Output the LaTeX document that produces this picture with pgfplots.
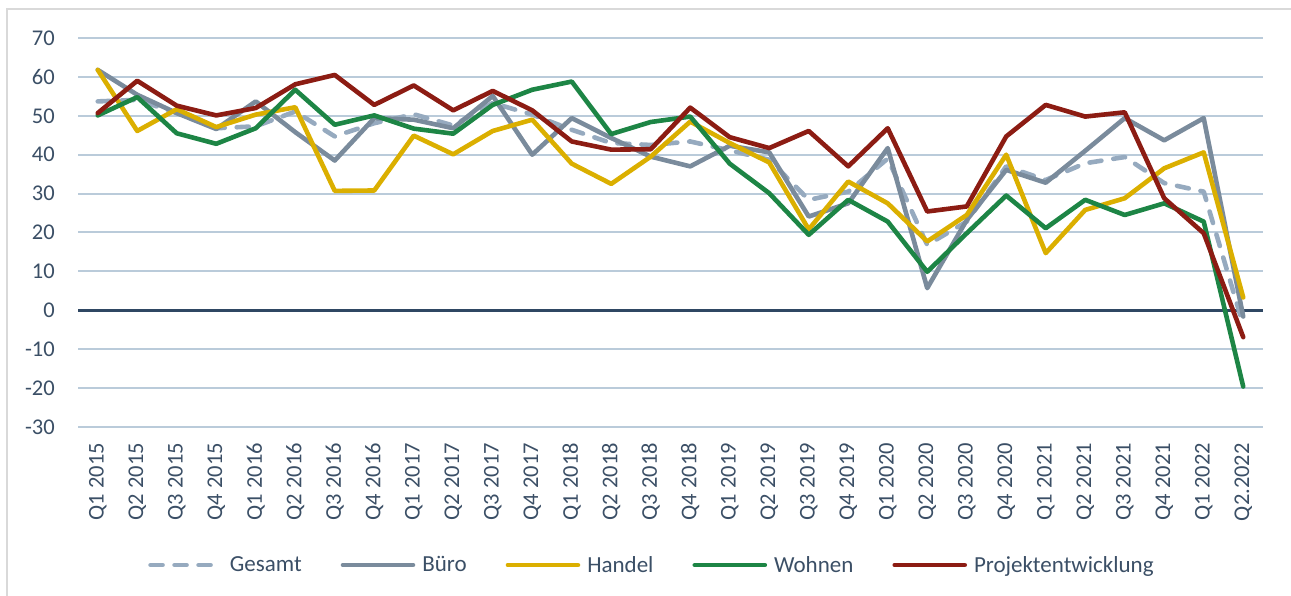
\documentclass[border=0pt]{standalone}
\usepackage{pgfplots}
\pgfplotsset{compat=1.18}
\usepackage{fontspec}
\setmainfont{Carlito}
\definecolor{txt}{HTML}{3B4F66}
\definecolor{framec}{HTML}{D9D9D9}
\definecolor{gridc}{HTML}{BACBDA}
\definecolor{zeroc}{HTML}{2F4763}
\definecolor{cges}{HTML}{96AABF}
\definecolor{cbuero}{HTML}{7A8B9C}
\definecolor{chandel}{HTML}{DBAF00}
\definecolor{cwohnen}{HTML}{1D8545}
\definecolor{cprojekt}{HTML}{8C1C13}
\pgfplotstableread{
i ges buero handel wohnen projekt
0 53.7 61.8 61.8 50.1 50.7
1 54.1 55.4 46.1 54.8 59.0
2 50.7 50.7 51.7 45.5 52.6
3 46.8 46.6 47.1 42.8 50.1
4 47.3 53.7 50.3 46.8 52.0
5 51.1 45.8 52.2 56.7 58.1
6 44.7 38.5 30.7 47.7 60.5
7 48.1 49.4 30.8 50.1 52.8
8 50.4 49.0 44.9 46.7 57.8
9 47.5 46.8 40.1 45.4 51.4
10 53.3 55.1 46.1 52.8 56.4
11 50.3 40.0 49.0 56.7 51.4
12 46.4 49.4 37.7 58.8 43.4
13 43.0 44.3 32.5 45.3 41.3
14 42.5 39.5 39.5 48.4 41.4
15 43.4 37.0 48.5 49.8 52.1
16 41.1 42.3 43.0 37.7 44.5
17 38.7 40.6 38.0 30.1 41.7
18 28.4 24.1 20.8 19.4 46.1
19 30.5 27.5 33.1 28.4 37.0
20 39.0 41.7 27.5 22.8 46.8
21 16.8 5.7 17.7 9.9 25.4
22 22.8 23.2 24.5 19.8 26.7
23 37.0 36.1 40.0 29.5 44.7
24 33.5 32.8 14.7 21.1 52.8
25 37.8 41.0 25.8 28.4 49.8
26 39.4 49.4 28.8 24.5 50.9
27 32.7 43.7 36.5 27.5 28.8
28 30.5 49.4 40.6 22.8 19.8
29 -3.8 -1.6 3.3 -19.6 -6.9
}\datatable
\begin{document}
\begin{tikzpicture}
\path[use as bounding box] (0,0) rectangle (1291bp,596bp);
\draw[color=framec, line width=1.5bp] (7bp,0) -- (7bp,587bp) -- (1291bp,587bp);
\begin{axis}[
  at={(78bp,169bp)}, anchor=south west,
  scale only axis, width=1185bp, height=389bp,
  xmin=-0.5, xmax=29.5, ymin=-30, ymax=70,
  ytick={-30,-20,-10,10,20,30,40,50,60,70},
  extra y ticks={0},
  extra y tick style={grid style={color=zeroc, line width=3bp}},
  ymajorgrids, grid style={color=gridc, line width=2bp},
  xtick={0,...,29},
  xticklabels={Q1 2015,Q2 2015,Q3 2015,Q4 2015,Q1 2016,Q2 2016,Q3 2016,Q4 2016,Q1 2017,Q2 2017,Q3 2017,Q4 2017,Q1 2018,Q2 2018,Q3 2018,Q4 2018,Q1 2019,Q2 2019,Q3 2019,Q4 2019,Q1 2020,Q2 2020,Q3 2020,Q4 2020,Q1 2021,Q2 2021,Q3 2021,Q4 2021,Q1 2022,Q2.2022},
  axis line style={draw=none}, tick style={draw=none},
  /pgf/number format/assume math mode=true,
  tick label style={font=\fontsize{22.5bp}{26bp}\selectfont, text=txt, inner sep=0pt},
  yticklabel shift=23bp,
  xticklabel style={rotate=90, anchor=east},
  xticklabel shift=16bp,
  legend columns=5,
  legend style={at={(0.4835,-0.3548)}, anchor=center, draw=none, fill=none,
    font=\fontsize{23bp}{27bp}\selectfont, text=txt,
    inner sep=0pt, nodes={inner sep=0pt},
    /tikz/every odd column/.append style={column sep=7bp},
    /tikz/every even column/.append style={column sep=39bp}},
  legend image code/.code={\draw[#1] (0bp,0bp) -- (70bp,0bp);},
  every axis plot/.append style={line width=4.6bp, line join=round, line cap=round},
]
\addplot[color=cges, dash pattern=on 12bp off 12bp] table[x=i, y=ges] {\datatable};
\addlegendentry{Gesamt}
\addplot[color=cbuero] table[x=i, y=buero] {\datatable};
\addlegendentry{Büro}
\addplot[color=chandel] table[x=i, y=handel] {\datatable};
\addlegendentry{Handel}
\addplot[color=cwohnen] table[x=i, y=wohnen] {\datatable};
\addlegendentry{Wohnen}
\addplot[color=cprojekt] table[x=i, y=projekt] {\datatable};
\addlegendentry{Projektentwicklung}
\end{axis}
\end{tikzpicture}
\end{document}
